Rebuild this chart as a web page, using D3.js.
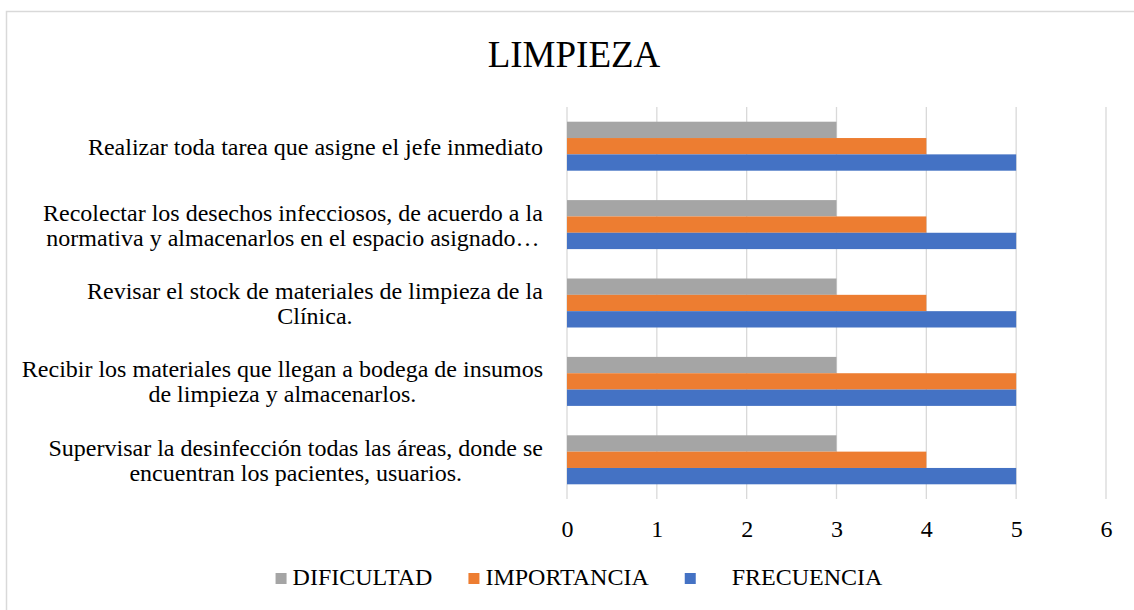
<!DOCTYPE html>
<html>
<head>
<meta charset="utf-8">
<script src="https://cdn.jsdelivr.net/npm/d3@7"></script>
<style>
  html, body { margin: 0; padding: 0; background: #fff; }
  svg text { font-family: "Liberation Serif", "Times New Roman", serif; fill: #000; }
</style>
</head>
<body>
<div id="chart"></div>
<script>
// categories, bottom to top as in the source sheet
const categories = [
  ["Supervisar la desinfección todas las áreas, donde se", "encuentran los pacientes, usuarios."],
  ["Recibir los materiales que llegan a bodega de insumos", "de limpieza y almacenarlos."],
  ["Revisar el stock de materiales de limpieza de la", "Clínica."],
  ["Recolectar los desechos infecciosos, de acuerdo a la", "normativa y almacenarlos en el espacio asignado…"],
  ["Realizar toda tarea que asigne el jefe inmediato"],
];
const seriesNames = ["DIFICULTAD", "IMPORTANCIA", "     FRECUENCIA"];
const dificultad = [3, 3, 3, 3, 3];
const importancia = [4, 5, 4, 4, 4];
const frecuencia = [5, 5, 5, 5, 5];
const xTicks = [0, 1, 2, 3, 4, 5, 6];

const colors = ["#A5A5A5", "#ED7D31", "#4472C4"];
const seriesValues = [dificultad, importancia, frecuencia];
const serif = "'Liberation Serif', 'Times New Roman', serif";

const width = 1134, height = 610;
const margin = { top: 107, right: 28, bottom: 111, left: 567 };
const innerWidth = width - margin.left - margin.right;
const innerHeight = height - margin.top - margin.bottom;

const svg = d3.select("#chart").append("svg")
  .attr("width", width)
  .attr("height", height);

// chart frame (right and bottom edges run off the page)
svg.append("rect")
  .attr("x", 6.5).attr("y", 11.5)
  .attr("width", width + 20).attr("height", height + 20)
  .attr("fill", "none")
  .attr("stroke", "#d9d9d9")
  .attr("stroke-width", 1.5);

svg.append("text")
  .attr("x", 574)
  .attr("y", 67)
  .attr("text-anchor", "middle")
  .style("font-family", serif)
  .style("font-size", "37px")
  .text("LIMPIEZA");

const g = svg.append("g").attr("transform", `translate(${margin.left},${margin.top})`);

const x = d3.scaleLinear().domain([0, 6]).range([0, innerWidth]);

// top row = last category
const catIdx = categories.map((d, i) => i);
const y = d3.scaleBand()
  .domain(catIdx.slice().reverse())
  .range([0, innerHeight])
  .paddingInner(0.375)
  .paddingOuter(0.1875);

// series inside a group: dificultad on top, frecuencia at bottom
const ySub = d3.scaleBand().domain([0, 1, 2]).range([0, y.bandwidth()]);

// gridlines
g.append("g")
  .selectAll("line")
  .data(xTicks)
  .join("line")
  .attr("x1", (d) => x(d)).attr("x2", (d) => x(d))
  .attr("y1", 0).attr("y2", innerHeight)
  .attr("stroke", "#d9d9d9")
  .attr("stroke-width", 1.3);

// bars
const rows = catIdx.flatMap((c) =>
  seriesValues.map((vals, s) => ({ c, s, v: vals[c] }))
);

g.append("g")
  .selectAll("rect")
  .data(rows)
  .join("rect")
  .attr("x", x(0))
  .attr("y", (d) => y(d.c) + ySub(d.s))
  .attr("width", (d) => x(d.v) - x(0))
  .attr("height", ySub.bandwidth())
  .attr("fill", (d) => colors[d.s]);

// x tick labels
const xAxis = d3.axisBottom(x)
  .tickValues(xTicks)
  .tickFormat(d3.format("d"))
  .tickSize(0)
  .tickPadding(21);
const xg = g.append("g")
  .attr("transform", `translate(0,${innerHeight})`)
  .call(xAxis);
xg.select(".domain").remove();
xg.attr("font-family", null).attr("font-size", null);
xg.selectAll("text")
  .style("font-family", serif)
  .style("font-size", "24px")
  .attr("fill", "#000");

// category labels: each block centred, block right-aligned to the axis
const lineH = 25;
const labelRight = -24;
const lab = g.append("g");
catIdx.forEach((c) => {
  const lines = categories[c];
  const t = lab.append("text")
    .style("font-family", serif)
    .style("font-size", "24px")
    .attr("text-anchor", "middle");
  lines.forEach((ln, i) => {
    t.append("tspan").attr("x", 0)
      .attr("y", y(c) + y.bandwidth() / 2 + (i - (lines.length - 1) / 2) * lineH)
      .attr("dy", "0.35em")
      .text(ln);
  });
  const bb = t.node().getBBox();
  t.attr("transform", `translate(${labelRight - bb.width / 2},0)`);
});

// legend
const legend = svg.append("g");
let lx = 0;
seriesNames.forEach((name, i) => {
  const item = legend.append("g").attr("transform", `translate(${lx},0)`);
  item.append("rect")
    .attr("x", 0).attr("y", -12)
    .attr("width", 11).attr("height", 11)
    .attr("fill", colors[i]);
  const t = item.append("text")
    .attr("x", 17).attr("y", 0)
    .style("font-family", serif)
    .style("font-size", "24px")
    .style("white-space", "pre")
    .text(name);
  lx += 17 + t.node().getComputedTextLength() + 36;
});
const legW = lx - 36;
legend.attr("transform", `translate(${579 - legW / 2},585)`);
</script>
</body>
</html>
